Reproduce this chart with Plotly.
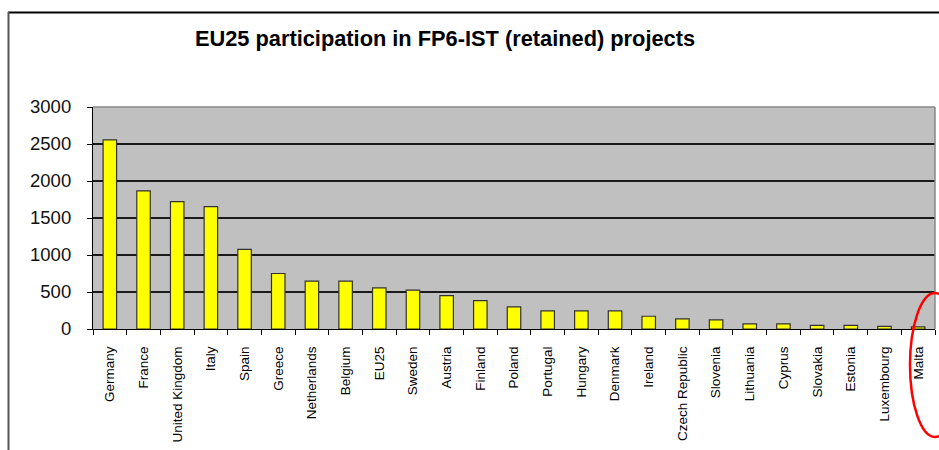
import plotly.graph_objects as go

countries = ["Germany", "France", "United Kingdom", "Italy", "Spain", "Greece",
             "Netherlands", "Belgium", "EU25", "Sweden", "Austria", "Finland",
             "Poland", "Portugal", "Hungary", "Denmark", "Ireland", "Czech Republic",
             "Slovenia", "Lithuania", "Cyprus", "Slovakia", "Estonia", "Luxembourg", "Malta"]
participations = [2557, 1866, 1722, 1654, 1075, 750, 646, 646, 556, 524, 452, 384,
                  298, 244, 244, 244, 172, 136, 122, 68, 68, 50, 50, 35, 30]
y_ticks = [0, 500, 1000, 1500, 2000, 2500, 3000]

W, H = 939, 450
# plot area in page pixels: x 93..935, y 107..329
L, T = 93, 107
R = W - 935
B = H - 329
pw, ph = W - L - R, H - T - B

def px(x):
    return (x - L) / pw

def py(y):
    return (H - B - y) / ph

fig = go.Figure(go.Bar(
    x=countries, y=participations,
    marker=dict(color="#FFFF00", line=dict(color="#333333", width=1.2)),
))

fig.update_layout(
    width=W, height=H,
    margin=dict(l=L, r=R, t=T, b=B, autoexpand=False),
    paper_bgcolor="white",
    plot_bgcolor="#C0C0C0",
    bargap=0.6,
    showlegend=False,
    font=dict(family="Liberation Sans, Arial, sans-serif", color="black"),
    title=dict(text="<b>EU25 participation in FP6-IST (retained) projects</b>",
               x=445 / W, xanchor="center", xref="container",
               y=1 - 38 / H, yanchor="middle", yref="container",
               font=dict(size=21.8, color="black")),
)

fig.update_xaxes(
    type="category", tickangle=-90, tickfont=dict(size=13.5),
    ticks="outside", tickson="boundaries", ticklen=5, tickcolor="black",
    showline=True, linecolor="black", linewidth=1.2,
    showgrid=False, ticklabelstandoff=11, automargin=False,
)
fig.update_yaxes(
    range=[0, 3000], tickvals=y_ticks, tickfont=dict(size=18.5, color="#111"),
    ticks="outside", ticklen=5, tickcolor="black",
    showline=True, linecolor="black", linewidth=1.2,
    showgrid=True, gridcolor="#1a1a1a", gridwidth=1.5, zeroline=False,
    ticklabelstandoff=12, automargin=False,
)

shapes = [
    # plot-area border (top/right)
    dict(type="line", xref="paper", yref="paper", x0=0, x1=1, y0=1, y1=1,
         line=dict(color="#888888", width=1.5)),
    dict(type="line", xref="paper", yref="paper", x0=1, x1=1, y0=0, y1=1,
         line=dict(color="#888888", width=1.5)),
    # outer chart frame
    dict(type="line", xref="paper", yref="paper", x0=px(8), x1=px(960), y0=py(12.5), y1=py(12.5),
         line=dict(color="black", width=2)),
    dict(type="line", xref="paper", yref="paper", x0=px(8.5), x1=px(8.5), y0=py(12), y1=py(470),
         line=dict(color="#555555", width=2)),
    # red ellipse highlighting Malta
    dict(type="circle", xref="paper", yref="paper", x0=px(910), x1=px(960), y0=py(437), y1=py(293),
         line=dict(color="red", width=2.5)),
]
fig.update_layout(shapes=shapes)

fig.write_html(
    "out.html",
    config={"displayModeBar": False},
    post_script="document.body.style.margin='0';document.body.style.overflow='hidden';",
)
